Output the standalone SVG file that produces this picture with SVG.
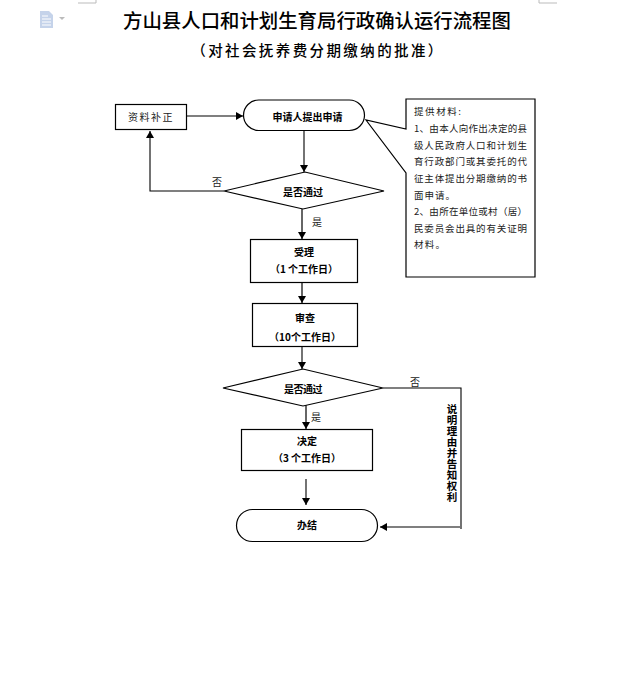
<svg xmlns="http://www.w3.org/2000/svg" width="636" height="682" viewBox="0 0 636 682">
<style>
text{font-family:"Noto Sans CJK SC","Liberation Sans",sans-serif;fill:#000;text-anchor:middle;font-size:10px}
.b{font-weight:700}
.shape{fill:#fff;stroke:#000;stroke-width:1.2}
.line{fill:none;stroke:#000;stroke-width:1.1}
.thick{fill:none;stroke:#333;stroke-width:1.5}
.note{text-anchor:start;font-size:9.5px;fill:#222}
.mark{fill:none;stroke:#bbb;stroke-width:1}
</style>
<defs>
<marker id="arrow" markerUnits="userSpaceOnUse" markerWidth="8" markerHeight="8" refX="7" refY="4" orient="auto"><path d="M0 0L7 4L0 8Z" fill="#000"/></marker>
</defs>
<rect width="636" height="682" fill="#fff"/>
<g id="page-marks">
<path class="mark" d="M78 3H96V0M539 0V3H557"/>
<path d="M40 11H49L53 15V28H40Z" fill="#c5d3ea"/>
<path d="M42 16H48M42 19H51M42 22H51M42 25H51" stroke="#fff" stroke-width="1"/>
<path d="M59 17H65L62 20Z" fill="#bbb"/>
</g>
<g id="title">
<text x="317" y="28" style="font-size:19.4px;font-weight:500">方山县人口和计划生育局行政确认运行流程图</text>
<text x="318" y="56" style="font-size:14.5px;letter-spacing:2.4px;font-weight:500">（对社会抚养费分期缴纳的批准）</text>
</g>
<g id="connectors">
<path class="line" marker-end="url(#arrow)" d="M187 116H243"/>
<path class="line" marker-end="url(#arrow)" d="M304 131V172"/>
<path class="line" marker-end="url(#arrow)" d="M224 191H150V131"/>
<path class="thick" marker-end="url(#arrow)" d="M302 209V239"/>
<path class="thick" marker-end="url(#arrow)" d="M302 283V303"/>
<path class="line" marker-end="url(#arrow)" d="M302 347V369"/>
<path class="thick" marker-end="url(#arrow)" d="M306 403V429"/>
<path class="line" marker-end="url(#arrow)" d="M306 479V505"/>
<path class="line" d="M383 388H461V529"/>
<path class="line" marker-end="url(#arrow)" d="M460 527H380"/>
</g>
<g id="n-bz"><rect class="shape" x="115.500" y="104.500" width="71" height="25"/><text x="151" y="121" style="letter-spacing:1.500px;fill:#222">资料补正</text></g>
<g id="n-apply"><rect class="shape" x="243.500" y="100" width="121" height="30.500" rx="15.250"/><text x="307.500" y="121" class="b">申请人提出申请</text></g>
<g id="n-note"><path class="shape" d="M406 99H535V277H406V173L366 120L406 129Z"/>
<text class="note" x="414" y="115" textLength="47">提供材料:</text>
<text class="note" x="414" y="132" textLength="113">1、由本人向作出决定的县</text>
<text class="note" x="414" y="149" textLength="113">级人民政府人口和计划生</text>
<text class="note" x="414" y="165" textLength="113">育行政部门或其委托的代</text>
<text class="note" x="414" y="182" textLength="113">征主体提出分期缴纳的书</text>
<text class="note" x="414" y="199" textLength="41">面申请。</text>
<text class="note" x="414" y="215" textLength="113">2、由所在单位或村（居）</text>
<text class="note" x="414" y="232" textLength="113">民委员会出具的有关证明</text>
<text class="note" x="414" y="248" textLength="31">材料。</text>
</g>
<g id="n-check1"><path class="shape" d="M224 191L305 172L384 191L303 209Z"/><text x="303" y="196" class="b">是否通过</text></g>
<g id="n-accept"><rect class="shape" x="250.500" y="239.500" width="107" height="43"/><text x="304" y="256" class="b">受理</text><text x="304" y="273" class="b">（1 个工作日）</text></g>
<g id="n-review"><rect class="shape" x="252.500" y="303.500" width="105" height="43"/><text x="305" y="322" class="b">审查</text><text x="305" y="341" class="b">（10个工作日）</text></g>
<g id="n-check2"><path class="shape" d="M223 388L303 369L383 388L303 406Z"/><text x="303" y="393" class="b" style="letter-spacing:-.5px">是否通过</text></g>
<g id="n-decide"><rect class="shape" x="241.500" y="429.500" width="131" height="41"/><text x="307" y="445" class="b">决定</text><text x="307" y="462" class="b">（3 个工作日）</text></g>
<g id="n-end"><rect class="shape" x="236.500" y="509.500" width="141" height="32" rx="16"/><text x="307" y="529" class="b">办结</text></g>
<g id="labels">
<text x="217" y="186" style="fill:#222">否</text>
<text x="317" y="226" style="fill:#222">是</text>
<text x="415" y="386" style="fill:#222">否</text>
<text x="316" y="421" style="fill:#222">是</text>
<text x="452" y="453" class="b" style="writing-mode:vertical-rl;font-size:10.500px;letter-spacing:.5px">说明理由并告知权利</text>
</g>
</svg>
